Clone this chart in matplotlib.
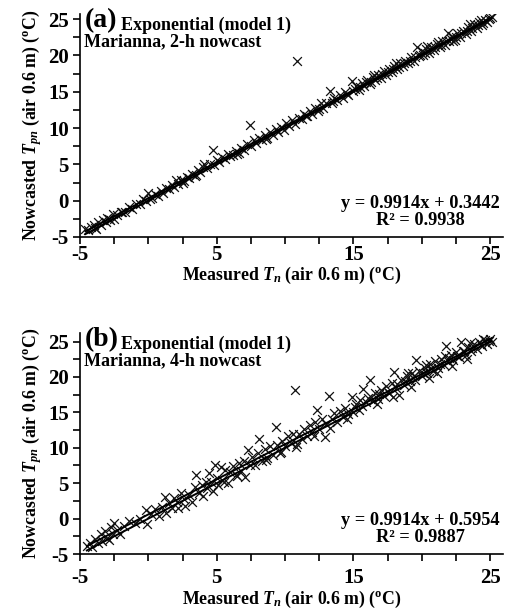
import numpy as np
import matplotlib.pyplot as plt
from matplotlib.ticker import MultipleLocator

plt.rcParams['font.family'] = 'Liberation Serif'
plt.rcParams['font.weight'] = 'bold'
plt.rcParams['axes.unicode_minus'] = False
plt.rcParams['mathtext.fontset'] = 'custom'
plt.rcParams['mathtext.rm'] = 'Liberation Serif:bold'
plt.rcParams['mathtext.bf'] = 'Liberation Serif:bold'
plt.rcParams['mathtext.it'] = 'Liberation Serif:italic:bold'

# panel (a): 2-h nowcast, measured vs nowcasted
a_pts = [(-4.6,-3.9),(-4.4,-4.1),(-4.2,-3.6),(-4.0,-3.4),(-3.8,-3.9),(-3.7,-3.0),(-3.5,-3.3),(-3.3,-2.6),(-3.1,-2.9),(-3.0,-2.4),
         (-2.8,-2.7),(-2.6,-1.9),(-2.5,-2.5),(-2.3,-2.0),(-2.0,-1.5),(-1.7,-1.5),(-1.4,-0.9),(-1.2,-1.1),(-0.9,-0.4),(-0.6,-0.5),
         (-0.4,0.2),(-0.2,-0.1),(0.0,1.1),(0.1,0.3),(0.3,0.4),(0.5,0.9),(0.7,0.6),(0.9,1.4),(1.1,1.0),(1.3,1.7),
         (1.5,1.6),(1.7,2.2),(1.9,1.9),(2.0,2.8),(2.2,2.3),(2.4,2.9),(2.6,2.7),(2.8,3.3),(3.0,3.1),(3.2,3.7),
         (3.4,3.4),(3.6,4.2),(3.8,3.9),(4.0,4.6),(4.1,5.0),(4.3,4.5),(4.5,5.0),(4.7,7.0),(4.8,4.9),(5.0,5.6),
         (5.2,5.3),(5.4,6.0),(5.6,5.7),(5.8,6.4),(6.0,6.1),(6.2,6.3),(6.4,6.9),(6.6,6.6),(6.8,7.3),(7.0,7.0),
         (7.2,7.8),(7.4,10.4),(7.5,7.6),(7.7,8.3),(7.9,7.9),(8.1,8.6),(8.3,8.3),(8.5,9.0),(8.7,8.7),(8.9,9.5),
         (9.1,9.1),(9.3,9.9),(9.5,9.5),(9.7,10.2),(9.9,9.8),(10.1,10.7),(10.3,10.3),(10.5,11.1),(10.7,10.6),(10.9,19.2),
         (11.0,11.4),(11.2,11.3),(11.4,12.0),(11.6,11.6),(11.8,12.4),(12.0,12.0),(12.2,12.8),(12.4,12.3),(12.6,13.4),(12.8,12.8),
         (13.0,13.5),(13.3,15.1),(13.4,13.4),(13.6,14.2),(13.8,13.8),(14.0,14.6),(14.2,14.1),(14.4,15.0),(14.6,14.6),(14.9,16.5),
         (15.0,15.1),(15.2,15.8),(15.4,15.3),(15.6,16.2),(15.8,15.8),(16.0,16.6),(16.2,16.1),(16.4,17.1),(16.6,16.6),(16.8,17.3),
         (17.0,16.9),(17.2,17.8),(17.4,17.3),(17.6,18.2),(17.8,17.7),(18.0,18.5),(18.2,18.1),(18.4,19.0),(18.6,18.5),(18.8,19.3),
         (19.0,18.9),(19.2,19.8),(19.4,19.2),(19.65,21.1),(19.8,19.9),(20.0,20.6),(20.1,20.0),(20.3,20.9),(20.5,20.4),(20.7,21.2),
         (20.9,20.7),(21.1,21.6),(21.3,21.1),(21.5,22.0),(21.7,21.5),(21.9,23.1),(22.0,22.0),(22.2,22.7),(22.4,22.2),(22.6,23.1),
         (22.8,22.6),(23.0,23.4),(23.2,23.0),(23.4,23.9),(23.6,23.4),(23.8,24.3),(24.0,23.8),(24.2,24.6),(24.4,24.2),(24.6,24.9),
         (24.8,24.6),(25.0,25.2),(25.1,25.3),(15.1,15.4),(15.5,15.7),(15.9,16.3),(16.3,16.4),(16.7,16.9),(17.1,17.4),(17.5,17.7),
         (17.9,18.2),(18.3,18.4),(18.7,18.9),(19.1,19.3),(19.5,19.8),(19.9,20.1),(20.2,20.4),(20.6,20.8),(21.0,21.2),(21.4,21.5),
         (21.8,22.0),(22.1,22.3),(22.5,22.6),(22.9,23.1),(23.3,23.4),(23.7,23.8),(24.1,24.2),(24.5,24.5),(24.9,25.0),(20.4,21.3),
         (22.3,22.0),(23.5,24.4),(18.1,18.9),(16.5,17.3),(21.2,21.9),(24.3,24.9),(-3.9,-3.7),(-2.9,-2.5),(-1.9,-1.6),(2.5,2.4),
         (3.5,3.6),(6.5,6.4),(8.6,8.5),(11.5,11.7),(12.5,12.6),(13.5,13.7),(14.5,14.7)]

# panel (b): 4-h nowcast
b_pts = [(-4.5,-3.9),(-4.3,-3.5),(-4.1,-4.0),(-3.9,-2.9),(-3.7,-3.4),(-3.5,-2.2),(-3.4,-3.1),(-3.2,-1.8),(-3.0,-2.7),(-2.9,-3.0),
         (-2.7,-1.2),(-2.6,-2.2),(-2.5,-0.6),(-2.3,-1.6),(-2.1,-2.2),(-1.8,-1.0),(-1.4,-0.3),(-1.0,-0.6),(-0.6,0.0),(-0.2,1.2),
         (-0.1,-0.7),(0.2,0.6),(0.5,1.3),(0.8,0.3),(1.0,1.7),(1.2,3.0),(1.3,0.8),(1.5,2.2),(1.7,1.5),(1.9,2.9),
         (2.1,2.4),(2.2,1.5),(2.4,3.6),(2.6,2.8),(2.7,1.8),(3.0,3.3),(3.2,2.4),(3.4,4.5),(3.5,6.2),(3.7,3.6),
         (3.9,4.8),(4.0,3.2),(4.2,5.1),(4.3,4.3),(4.4,6.5),(4.6,5.2),(4.7,3.9),(4.9,7.5),(5.0,5.8),(5.1,4.7),
         (5.3,7.3),(5.4,5.5),(5.6,6.8),(5.8,5.0),(6.0,6.6),(6.2,7.4),(6.4,6.2),(6.6,7.9),(6.8,6.7),(7.0,8.2),
         (7.1,5.9),(7.3,9.7),(7.4,7.5),(7.6,8.7),(7.8,7.6),(8.0,9.2),(8.1,11.3),(8.3,8.2),(8.5,9.8),(8.7,8.6),
         (8.9,10.2),(9.1,9.0),(9.3,13.0),(9.4,10.4),(9.6,9.2),(9.8,11.0),(10.0,10.3),(10.2,11.6),(10.4,10.7),(10.6,12.0),
         (10.7,18.2),(10.8,10.1),(11.0,11.9),(11.2,11.2),(11.4,12.6),(11.6,11.7),(11.8,13.2),(12.0,12.2),(12.2,13.6),(12.3,15.4),
         (12.5,12.6),(12.7,14.0),(12.9,11.5),(13.0,13.4),(13.2,17.3),(13.4,14.0),(13.6,14.9),(13.8,13.6),(14.0,15.2),(14.2,14.3),
         (14.4,15.6),(14.6,14.8),(14.9,17.2),(15.0,15.0),(15.2,16.2),(15.4,15.4),(15.5,16.8),(15.7,18.3),(15.9,16.4),(16.1,17.0),
         (16.2,19.5),(16.4,16.6),(16.6,17.8),(16.8,16.9),(17.0,18.1),(17.2,17.3),(17.4,18.7),(17.6,17.7),(17.8,19.1),(18.0,20.7),
         (18.1,18.4),(18.3,17.5),(18.5,19.5),(18.7,18.9),(18.9,20.1),(19.1,19.4),(19.3,20.6),(19.5,19.6),(19.6,22.4),(19.8,20.8),
         (20.0,20.1),(20.2,21.3),(20.4,20.6),(20.6,21.8),(20.8,20.9),(21.0,22.2),(21.2,21.3),(21.4,22.6),(21.6,21.7),(21.8,24.4),
         (21.9,22.3),(22.1,23.1),(22.3,22.4),(22.5,23.5),(22.7,22.8),(22.9,25.0),(23.0,23.6),(23.2,23.1),(23.4,24.3),(23.6,23.6),
         (23.8,24.7),(24.0,24.0),(24.2,24.9),(24.4,24.4),(24.6,25.2),(24.8,24.6),(25.0,25.3),(25.1,24.9),(15.1,15.8),(15.6,15.9),
         (16.3,17.2),(16.9,17.6),(17.5,17.9),(18.2,19.0),(18.8,19.4),(19.4,20.1),(20.1,20.6),(20.7,21.3),(21.3,21.8),(22.0,22.7),
         (22.6,23.0),(23.1,23.7),(23.7,24.1),(24.3,24.7),(24.9,25.1),(20.5,19.8),(21.1,20.6),(22.2,21.6),(23.3,22.6),(19.2,18.6),
         (17.9,17.2),(16.7,16.2),(14.5,14.0),(13.3,12.8),(12.1,11.6),(10.9,10.6),(9.7,9.4),(8.6,8.3),(6.5,6.0),(5.5,5.1),
         (20.3,21.7),(21.7,23.0),(23.5,24.8),(24.5,25.4),(19.0,20.5)]

x_ticks = [-5, 5, 15, 25]
y_ticks = [-5, 0, 5, 10, 15, 20, 25]

panels = [
    dict(pts=a_pts, tag='(a)', lead='2-h', slope=0.9914, icpt=0.3442, r2='0.9938',
         rect=[0.1584, 0.6134, 0.838, 0.3636], ytop=25.7, xpad=1, lpad=0),
    dict(pts=b_pts, tag='(b)', lead='4-h', slope=0.9914, icpt=0.5954, r2='0.9887',
         rect=[0.1584, 0.0962, 0.838, 0.3605], ytop=26.2, xpad=5, lpad=1),
]

fig = plt.figure(figsize=(5.05, 6.13), dpi=100)

for p in panels:
    ax = fig.add_axes(p['rect'])
    xs = np.array([q[0] for q in p['pts']])
    ys = np.array([q[1] for q in p['pts']])
    ax.scatter(xs, ys, marker='x', s=40, color='#111111', linewidths=0.9, zorder=2)

    xl = np.array([xs.min(), xs.max()])
    ax.plot(xl, p['slope'] * xl + p['icpt'], color='black', lw=1.4, zorder=3)
    ax.plot(xl, xl, color='black', lw=1.4, zorder=3)

    ax.set_xlim(-5, 25.95)
    ax.set_ylim(-5, p['ytop'])
    ax.set_xticks(x_ticks)
    ax.set_yticks(y_ticks)
    ax.xaxis.set_minor_locator(MultipleLocator(2.5))
    ax.yaxis.set_minor_locator(MultipleLocator(2.5))
    ax.tick_params(which='both', direction='out', length=5, width=1.2, colors='black')
    ax.tick_params(axis='both', labelsize=15, pad=3)
    ax.tick_params(axis='x', pad=p['xpad'])
    for lbl in ax.get_xticklabels() + ax.get_yticklabels():
        lbl.set_fontweight('bold')
    for s in ['top', 'right']:
        ax.spines[s].set_visible(False)
    for s in ['left', 'bottom']:
        ax.spines[s].set_linewidth(1.2)

    ax.set_xlabel(r'Measured $T_n$ (air 0.6 m) ($^{\mathrm{o}}$C)', fontsize=12.8, fontweight='bold', labelpad=p['lpad'])
    ax.set_ylabel(r'Nowcasted $T_{pn}$ (air 0.6 m) ($^{\mathrm{o}}$C)', fontsize=12.8, fontweight='bold', labelpad=3)

    ax.text(0.012, 1.025, p['tag'], transform=ax.transAxes, fontsize=20, fontweight='bold', va='top', ha='left')
    ax.text(0.097, 0.99, 'Exponential (model 1)', transform=ax.transAxes, fontsize=13, fontweight='bold', va='top', ha='left')
    ax.text(0.01, 0.915, 'Marianna, ' + p['lead'] + ' nowcast', transform=ax.transAxes, fontsize=13, fontweight='bold', va='top', ha='left')
    eq = 'y = %.4fx + %.4f\nR² = %s' % (p['slope'], p['icpt'], p['r2'])
    ax.text(0.805, 0.035, eq, transform=ax.transAxes, fontsize=13.2, fontweight='bold',
            ha='center', va='bottom', multialignment='center', linespacing=1.0)

fig.savefig('out.png', dpi=100)
